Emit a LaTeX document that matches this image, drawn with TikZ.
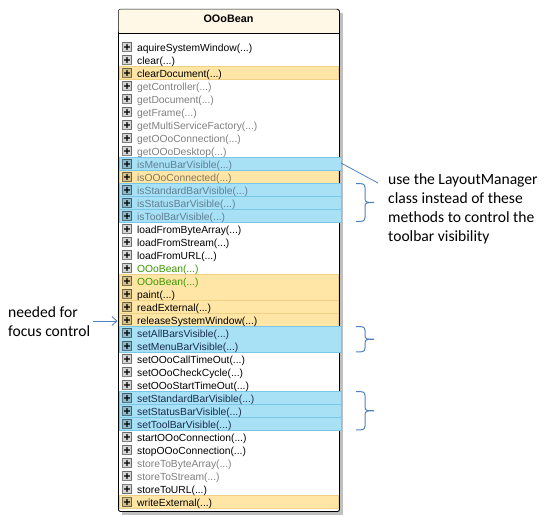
\documentclass[tikz,border=0pt]{standalone}
\usepackage{fontspec}
\setmainfont{Liberation Sans}
\newfontfamily\calib{Carlito}
\usetikzlibrary{arrows.meta}
\definecolor{hdr}{RGB}{255,248,230}
\definecolor{hlY}{RGB}{255,230,166}
\definecolor{hlYb}{RGB}{240,208,130}
\definecolor{hlB}{RGB}{168,224,246}
\definecolor{hlBb}{RGB}{120,198,232}
\definecolor{mgray}{RGB}{128,128,128}
\definecolor{mgrayB}{RGB}{95,128,145}
\definecolor{mgrayY}{RGB}{130,118,92}
\definecolor{mgreen}{RGB}{60,150,0}
\definecolor{mdark}{RGB}{25,45,75}
\definecolor{noteblue}{RGB}{79,129,189}
\definecolor{shadowc}{RGB}{192,192,192}
\newcommand\mybrace[2]{%
  \pgfmathsetmacro\brmid{(#1+#2)/2}%
  \draw[bracestyle] (356,#1) .. controls (362,#1) and (365,#1) .. (365,{#1+4})
    -- (365,{\brmid-4}) .. controls (365,\brmid) and (367,\brmid) .. (374,\brmid)
    .. controls (367,\brmid) and (365,\brmid) .. (365,{\brmid+4})
    -- (365,{#2-4}) .. controls (365,#2) and (362,#2) .. (356,#2);}
\begin{document}
\begin{tikzpicture}[x=1pt,y=-1pt,
  rowtext/.style={anchor=base west,inner sep=0pt,font=\fontsize{10.3}{12}\selectfont},
  titletext/.style={anchor=base,inner sep=0pt,font=\fontsize{10.8}{12}\selectfont\bfseries},
  notetext/.style={anchor=base west,inner sep=0pt,font=\calib\fontsize{15.6}{19}\selectfont},
  noteline/.style={draw=noteblue,line width=0.8pt},
  bracestyle/.style={draw=noteblue,line width=1pt},
  iconbox/.style={draw=black,draw opacity=0.5,fill=black,fill opacity=0.16,line width=0.7pt},
  iconplus/.style={draw=black,draw opacity=0.65,line width=1.1pt},
  yrow/.style={fill=hlY,draw=hlYb,line width=0.6pt},
  brow/.style={fill=hlB,draw=hlBb,line width=0.6pt}]
\useasboundingbox (0,0) rectangle (550,524);
% shadow and class box
\fill[shadowc] (122,13) rectangle (343,515);
\node[draw=black,line width=0.9pt,fill=white,rounded corners=2pt,inner sep=0pt,
  minimum width=221pt,minimum height=502pt,anchor=north west] (cls) at (118,9) {};
\fill[hdr,rounded corners=2pt] (118.5,9.5) rectangle (338.5,33);
\draw[line width=0.9pt] (118,33) -- (339,33);
\node[titletext] (title) at (228.5,23) {OOoBean};
% highlights
\foreach \a/\b in {2/2,10/10,18/19,20/20,21/21,35/35}
  \filldraw[yrow] (119,{40.5+13*\a}) rectangle (338.5,{53.5+13*\b});
\foreach \a/\b in {9/9,11/11,12/12,13/13,22/23,27/27,28/28,29/29}
  \filldraw[brow] (119,{40.5+13*\a}) rectangle (341,{53.5+13*\b});
% icons
\foreach \i in {0,...,35}{
  \filldraw[iconbox] (122.5,{42.5+13*\i}) rectangle (131.5,{51.5+13*\i});
  \draw[iconplus] (124.3,{47+13*\i}) -- (129.7,{47+13*\i});
  \draw[iconplus] (127,{44.3+13*\i}) -- (127,{49.7+13*\i});
}
% method names
\foreach \i/\t/\c in {
  0/aquireSystemWindow/black, 1/clear/black, 2/clearDocument/black,
  3/getController/mgray, 4/getDocument/mgray, 5/getFrame/mgray,
  6/getMultiServiceFactory/mgray, 7/getOOoConnection/mgray, 8/getOOoDesktop/mgray,
  9/isMenuBarVisible/mgrayB, 10/isOOoConnected/mgrayY, 11/isStandardBarVisible/mgrayB,
  12/isStatusBarVisible/mgrayB, 13/isToolBarVisible/mgrayB,
  14/loadFromByteArray/black, 15/loadFromStream/black, 16/loadFromURL/black,
  17/OOoBean/mgreen, 18/OOoBean/mgreen, 19/paint/black, 20/readExternal/black,
  21/releaseSystemWindow/black, 22/setAllBarsVisible/mdark, 23/setMenuBarVisible/mdark,
  24/setOOoCallTimeOut/black, 25/setOOoCheckCycle/black, 26/setOOoStartTimeOut/black,
  27/setStandardBarVisible/mdark, 28/setStatusBarVisible/mdark, 29/setToolBarVisible/mdark,
  30/startOOoConnection/black, 31/stopOOoConnection/black,
  32/storeToByteArray/mgray, 33/storeToStream/mgray, 34/storeToURL/black,
  35/writeExternal/black}
  \node[rowtext,text=\c] (r\i) at (137,{51.2+13*\i}) {\t(...)};
% right note
\node[notetext] (u1) at (388,185) {use the LayoutManager};
\node[notetext] (u2) at (388,204) {class instead of these};
\node[notetext] (u3) at (388,223) {methods to control the};
\node[notetext] (u4) at (388,242) {toolbar visibility};
\coordinate (m9) at (341,163);
\coordinate (m9n) at (378,183);
\draw[noteline] (m9) -- (m9n);
\mybrace{183.5}{221.5}
\mybrace{326.5}{352}
\mybrace{391.5}{430}
% left note
\node[notetext] (n1) at (8,318) {needed for};
\node[notetext] (n2) at (8,337) {focus control};
\coordinate (fa) at (93,321);
\coordinate (fb) at (117.5,321);
\draw[noteline,-{Straight Barb[length=5pt,width=9pt,line width=0.8pt]}] (fa) -- (fb);
\end{tikzpicture}
\end{document}
